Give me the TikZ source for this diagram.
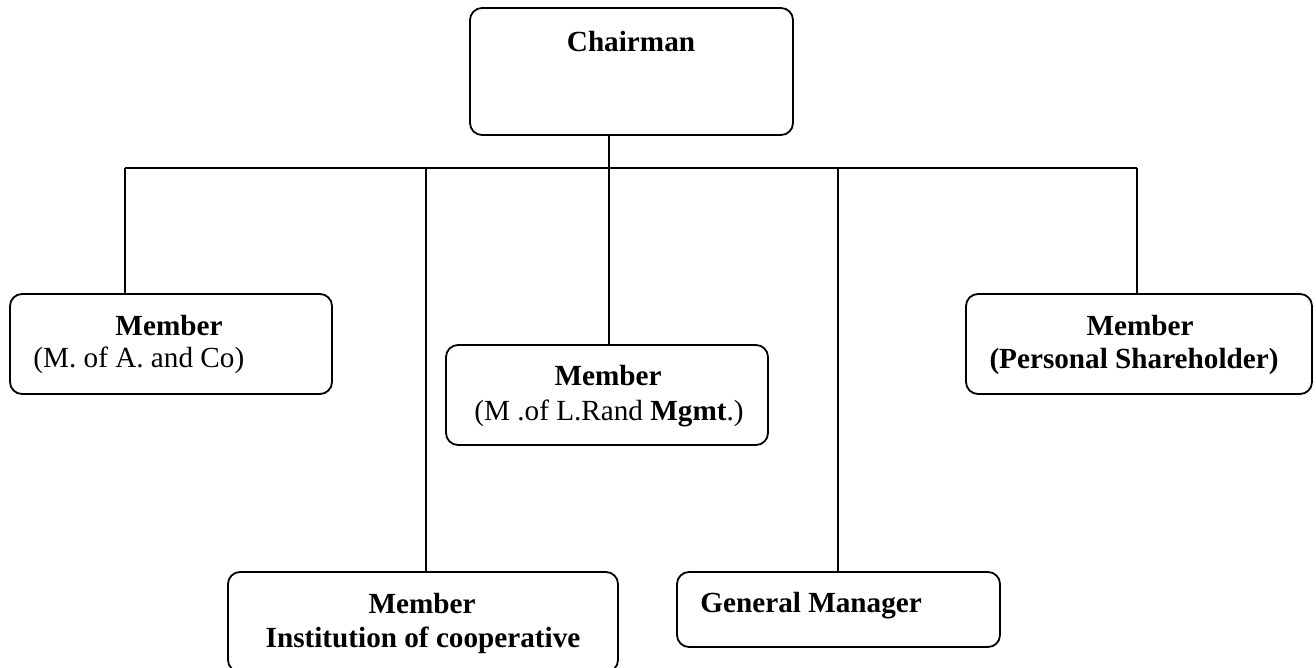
\documentclass[tikz,border=0pt]{standalone}
\usepackage{fontspec}
\setmainfont{Liberation Serif}
\begin{document}
\begin{tikzpicture}[x=0.5pt,y=-0.5pt,
  box/.style={draw,line width=0.9pt,rounded corners=6pt,inner sep=0pt,fill=none},
  lbl/.style={anchor=base,inner sep=0pt,font=\fontsize{14.6pt}{17pt}\selectfont},
  conn/.style={line width=0.9pt}]
\useasboundingbox (0,0) rectangle (1316,668);
\clip (0,0) rectangle (1316,668);
% boxes
\node[box,minimum width=161.5pt,minimum height=63.5pt] (chair) at (631.5,71.5) {};
\node[box,minimum width=161pt,minimum height=50pt] (b1) at (171,344) {};
\node[box,minimum width=161pt,minimum height=50pt] (mid) at (607,395) {};
\node[box,minimum width=173pt,minimum height=50pt] (b5) at (1139,344) {};
\node[box,minimum width=195pt,minimum height=50pt] (bl) at (423,622) {};
\node[box,minimum width=161.5pt,minimum height=37.5pt] (gm) at (838.5,609.5) {};
% texts
\node[lbl] (tchair) at (631,52) {\textbf{Chairman}};
\node[lbl] (t1a) at (169,335) {\textbf{Member}};
\node[lbl,anchor=base west] (t1b) at (33,367) {(M. of A. and Co)};
\node[lbl] (tma) at (608,385) {\textbf{Member}};
\node[lbl] (tmb) at (609,420) {(M .of L.Rand \textbf{Mgmt}.)};
\node[lbl] (t5a) at (1140,335) {\textbf{Member}};
\node[lbl] (t5b) at (1134,368) {\textbf{(Personal Shareholder)}};
\node[lbl] (tbla) at (422,613) {\textbf{Member}};
\node[lbl] (tblb) at (423,647) {\textbf{Institution of cooperative}};
\node[lbl,anchor=base west] (tgm) at (700,612) {\textbf{General Manager}};
% bar junctions
\coordinate (j1) at (125,168);
\coordinate (j2) at (426,168);
\coordinate (j3) at (609,168);
\coordinate (j4) at (838,168);
\coordinate (j5) at (1137,168);
% connectors
\draw[conn] (chair.south -| j3) -- (mid.north -| j3);
\draw[conn] (j1) -- (j5);
\draw[conn] (j1) -- (j1 |- b1.north);
\draw[conn] (j2) -- (j2 |- bl.north);
\draw[conn] (j4) -- (j4 |- gm.north);
\draw[conn] (j5) -- (j5 |- b5.north);
\end{tikzpicture}
\end{document}
